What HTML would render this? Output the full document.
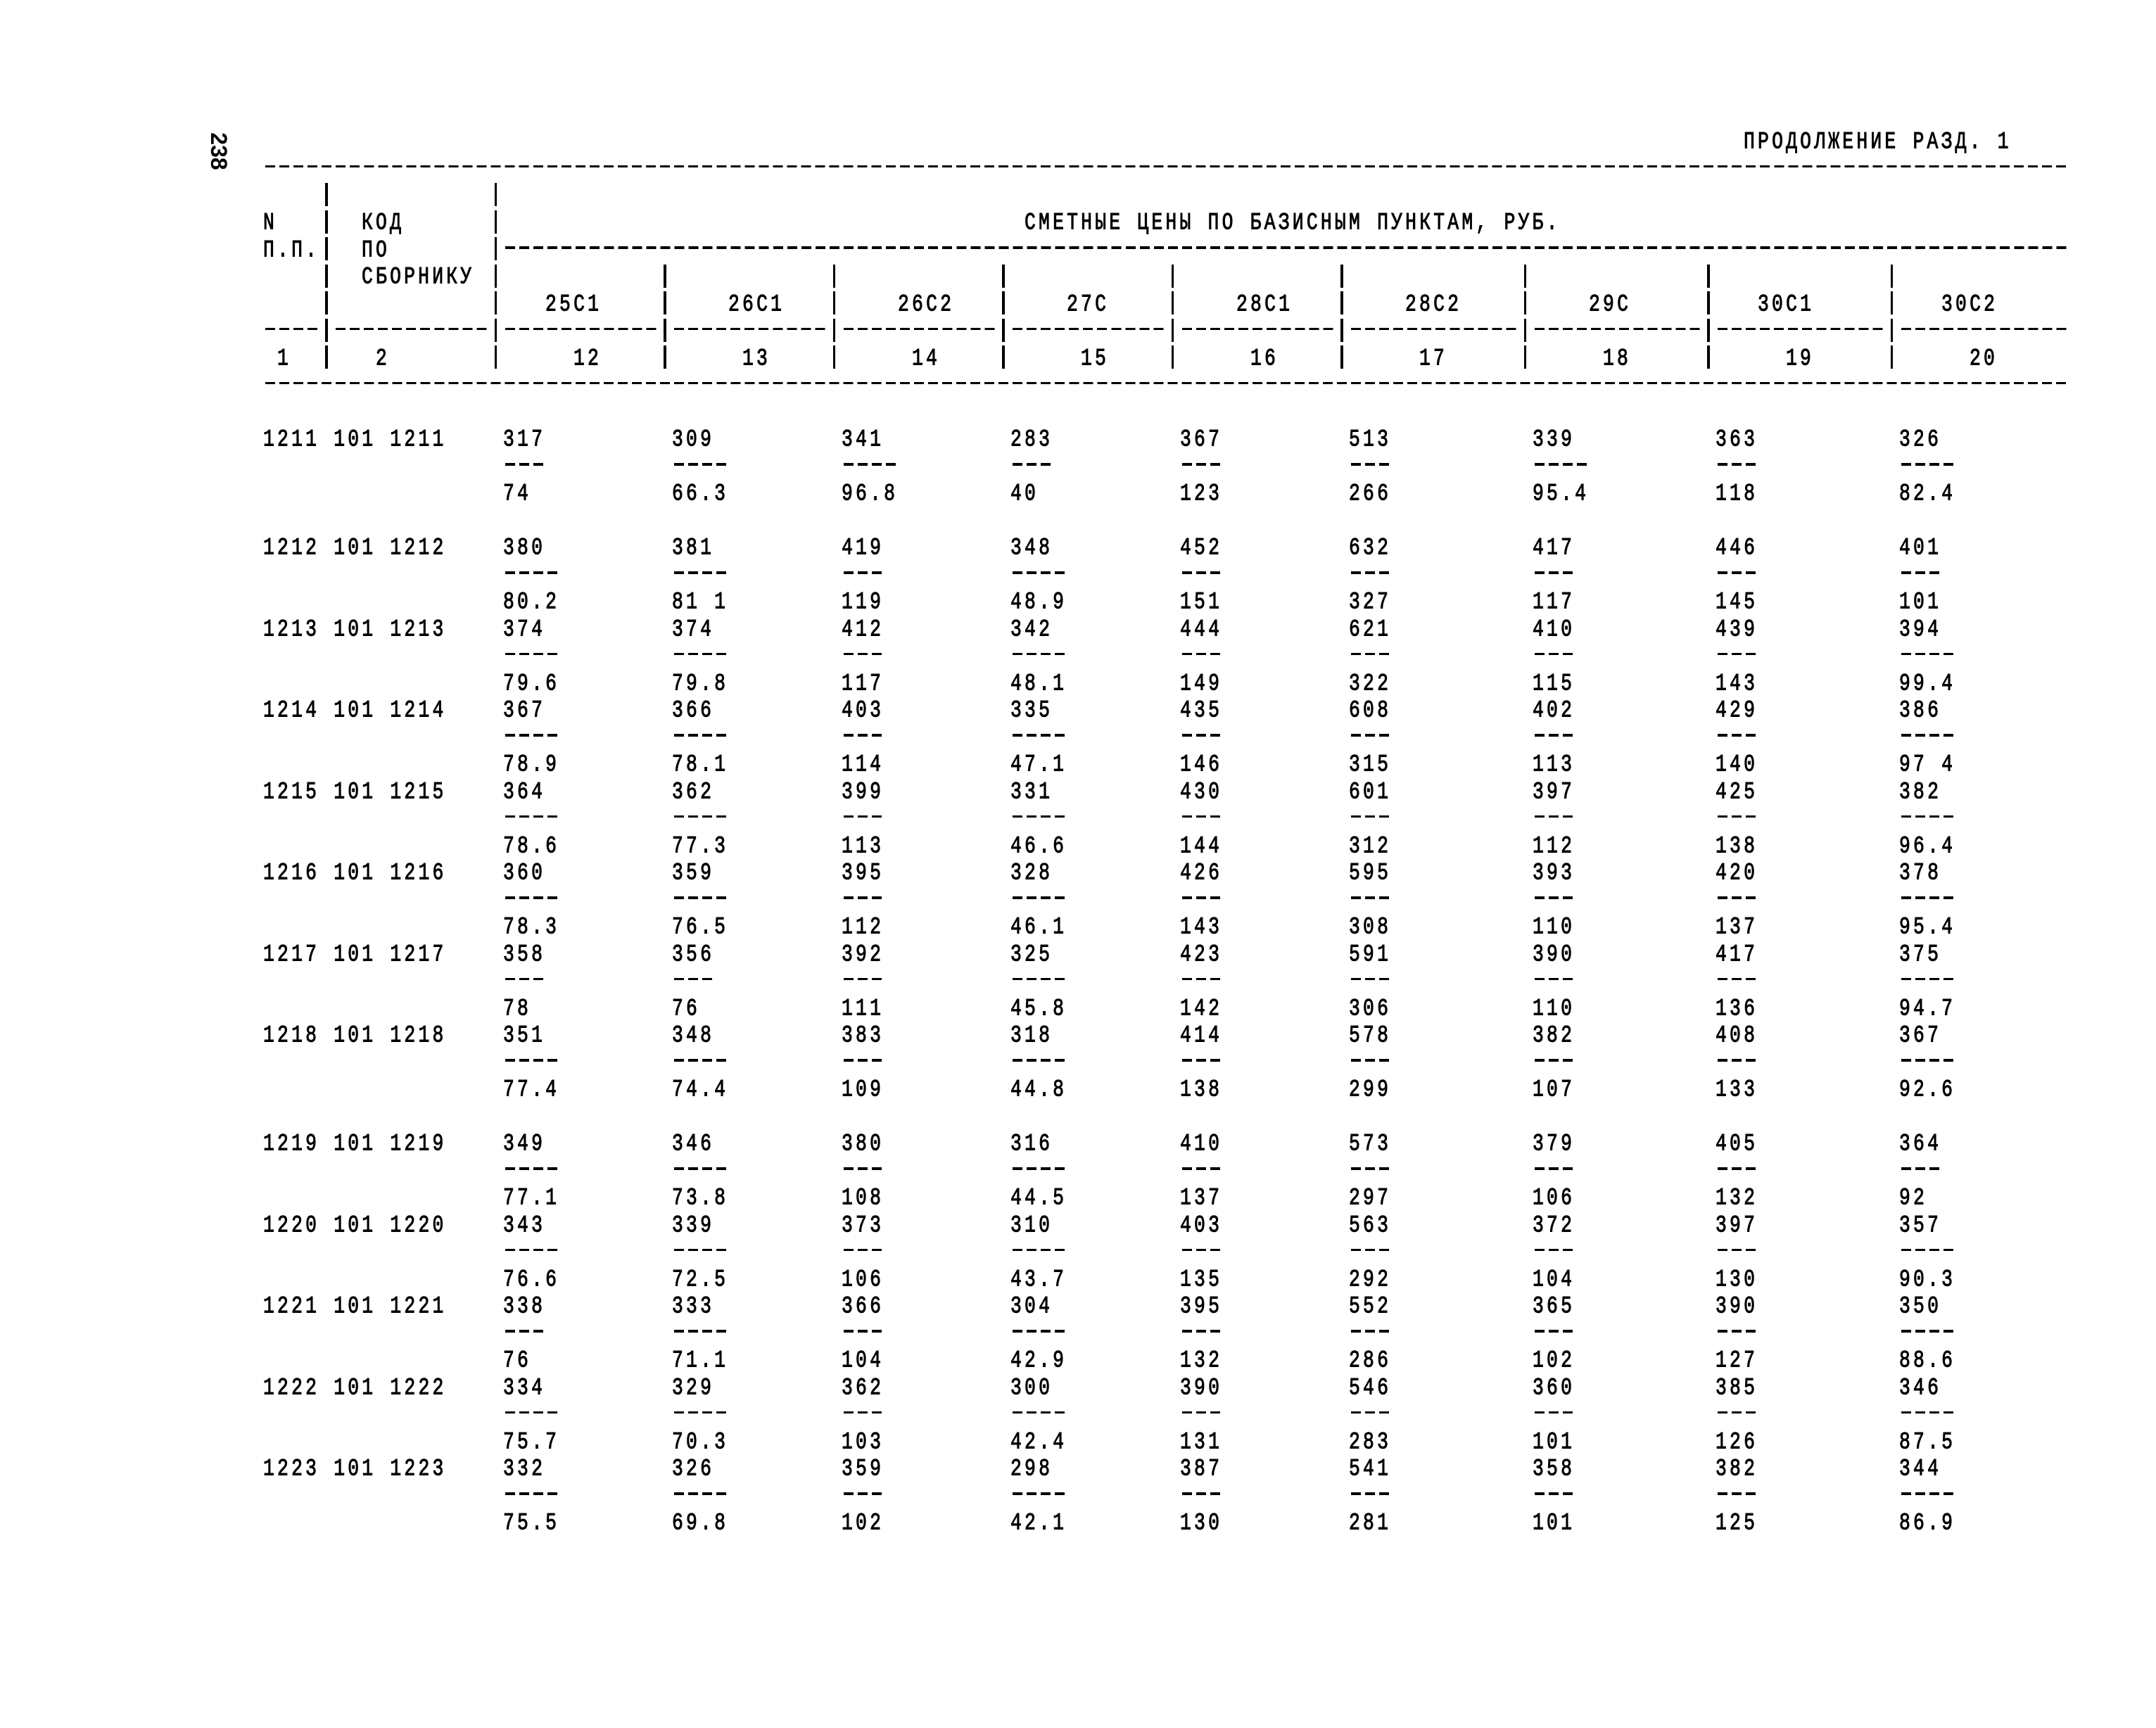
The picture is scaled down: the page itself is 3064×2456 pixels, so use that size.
<!DOCTYPE html>
<html><head><meta charset="utf-8"><style>
html,body{margin:0;padding:0;background:#fff}
body{width:3064px;height:2456px;position:relative;overflow:hidden}
.r{position:absolute;left:0;width:3064px;height:38.5px}
.t{position:absolute;top:0;font-family:"Liberation Mono","DejaVu Sans Mono",monospace;font-size:33px;line-height:38.5px;letter-spacing:5.25px;transform:scale(.8,1.05);transform-origin:0 17px;white-space:pre;color:#000;-webkit-text-stroke:1px #000}
.d{position:absolute;top:13.4px;height:3.5px;background:repeating-linear-gradient(90deg,transparent 0 3px,#000 3px 17px,transparent 17px 20.04px)}
.d3{width:60.12px}.d4{width:80.16px}.d11{width:220.44px}.d12{width:240.48px}
.b{position:absolute;top:.65px;width:3.5px;height:33px;background:#000}
.x0{left:374px}.x1{left:394.04px}.x5{left:474.2px}.x7{left:514.28px}.x8{left:534.32px}
.x17{left:714.68px}.x20{left:774.8px}.x22{left:814.88px}.x29{left:955.16px}.x33{left:1035.32px}.x34{left:1055.36px}
.x41{left:1195.64px}.x45{left:1275.8px}.x46{left:1295.84px}.x53{left:1436.12px}.x54{left:1456.16px}.x57{left:1516.28px}.x58{left:1536.32px}
.x65{left:1676.6px}.x69{left:1756.76px}.x70{left:1776.8px}.x77{left:1917.08px}.x81{left:1997.24px}.x82{left:2017.28px}
.x90{left:2177.6px}.x94{left:2257.76px}.x95{left:2277.8px}.x103{left:2438.12px}.x105{left:2478.2px}.x106{left:2498.24px}.x108{left:2538.32px}
.x116{left:2698.64px}.x119{left:2758.76px}.x121{left:2798.84px}
.q4{left:462.43px}.q16{left:702.91px}.q28{left:943.39px}.q40{left:1183.87px}.q52{left:1424.35px}.q64{left:1664.83px}.q76{left:1905.31px}.q89{left:2165.83px}.q102{left:2426.35px}.q115{left:2686.87px}
.pg{position:absolute;left:283px;top:199px;width:56px;height:32px;line-height:32px;text-align:center;font-family:"Liberation Sans",sans-serif;font-weight:bold;font-size:32px;color:#000;transform:rotate(90deg);transform-origin:center}
</style></head><body>
<div class="pg">238</div>

<div class="r" style="top:182.65px"><span class="t x105">ПРОДОЛЖЕНИЕ РАЗД. 1</span></div>
<div class="r" style="top:221.15px"><i class="d x0" style="width:2565.12px"></i></div>
<div class="r" style="top:259.65px"><i class="b q4"></i><i class="b q16"></i></div>
<div class="r" style="top:298.15px"><span class="t x0">N</span><i class="b q4"></i><span class="t x7">КОД</span><i class="b q16"></i><span class="t x54">СМЕТНЫЕ ЦЕНЫ ПО БАЗИСНЫМ ПУНКТАМ, РУБ.</span></div>
<div class="r" style="top:336.65px"><span class="t x0">П.П.</span><i class="b q4"></i><span class="t x7">ПО</span><i class="b q16"></i><i class="d x17" style="width:2224.44px"></i></div>
<div class="r" style="top:375.15px"><i class="b q4"></i><span class="t x7">СБОРНИКУ</span><i class="b q16"></i><i class="b q28"></i><i class="b q40"></i><i class="b q52"></i><i class="b q64"></i><i class="b q76"></i><i class="b q89"></i><i class="b q102"></i><i class="b q115"></i></div>
<div class="r" style="top:413.65px"><i class="b q4"></i><i class="b q16"></i><span class="t x20">25С1</span><i class="b q28"></i><span class="t x33">26С1</span><i class="b q40"></i><span class="t x45">26С2</span><i class="b q52"></i><span class="t x57">27С</span><i class="b q64"></i><span class="t x69">28С1</span><i class="b q76"></i><span class="t x81">28С2</span><i class="b q89"></i><span class="t x94">29С</span><i class="b q102"></i><span class="t x106">30С1</span><i class="b q115"></i><span class="t x119">30С2</span></div>
<div class="r" style="top:452.15px"><i class="d d4 x0"></i><i class="b q4"></i><i class="d d11 x5"></i><i class="b q16"></i><i class="d d11 x17"></i><i class="b q28"></i><i class="d d11 x29"></i><i class="b q40"></i><i class="d d11 x41"></i><i class="b q52"></i><i class="d d11 x53"></i><i class="b q64"></i><i class="d d11 x65"></i><i class="b q76"></i><i class="d d12 x77"></i><i class="b q89"></i><i class="d d12 x90"></i><i class="b q102"></i><i class="d d12 x103"></i><i class="b q115"></i><i class="d d12 x116"></i></div>
<div class="r" style="top:490.65px"><span class="t x1">1</span><i class="b q4"></i><span class="t x8">2</span><i class="b q16"></i><span class="t x22">12</span><i class="b q28"></i><span class="t x34">13</span><i class="b q40"></i><span class="t x46">14</span><i class="b q52"></i><span class="t x58">15</span><i class="b q64"></i><span class="t x70">16</span><i class="b q76"></i><span class="t x82">17</span><i class="b q89"></i><span class="t x95">18</span><i class="b q102"></i><span class="t x108">19</span><i class="b q115"></i><span class="t x121">20</span></div>
<div class="r" style="top:529.15px"><i class="d x0" style="width:2565.12px"></i></div>

<!-- 1211 -->
<div class="r" style="top:606.15px"><span class="t x0">1211 101 1211</span><span class="t x17">317</span><span class="t x29">309</span><span class="t x41">341</span><span class="t x53">283</span><span class="t x65">367</span><span class="t x77">513</span><span class="t x90">339</span><span class="t x103">363</span><span class="t x116">326</span></div>
<div class="r" style="top:644.65px"><i class="d d3 x17"></i><i class="d d4 x29"></i><i class="d d4 x41"></i><i class="d d3 x53"></i><i class="d d3 x65"></i><i class="d d3 x77"></i><i class="d d4 x90"></i><i class="d d3 x103"></i><i class="d d4 x116"></i></div>
<div class="r" style="top:683.15px"><span class="t x17">74</span><span class="t x29">66.3</span><span class="t x41">96.8</span><span class="t x53">40</span><span class="t x65">123</span><span class="t x77">266</span><span class="t x90">95.4</span><span class="t x103">118</span><span class="t x116">82.4</span></div>

<!-- 1212 -->
<div class="r" style="top:760.15px"><span class="t x0">1212 101 1212</span><span class="t x17">380</span><span class="t x29">381</span><span class="t x41">419</span><span class="t x53">348</span><span class="t x65">452</span><span class="t x77">632</span><span class="t x90">417</span><span class="t x103">446</span><span class="t x116">401</span></div>
<div class="r" style="top:798.65px"><i class="d d4 x17"></i><i class="d d4 x29"></i><i class="d d3 x41"></i><i class="d d4 x53"></i><i class="d d3 x65"></i><i class="d d3 x77"></i><i class="d d3 x90"></i><i class="d d3 x103"></i><i class="d d3 x116"></i></div>
<div class="r" style="top:837.15px"><span class="t x17">80.2</span><span class="t x29">81 1</span><span class="t x41">119</span><span class="t x53">48.9</span><span class="t x65">151</span><span class="t x77">327</span><span class="t x90">117</span><span class="t x103">145</span><span class="t x116">101</span></div>

<!-- 1213 -->
<div class="r" style="top:875.65px"><span class="t x0">1213 101 1213</span><span class="t x17">374</span><span class="t x29">374</span><span class="t x41">412</span><span class="t x53">342</span><span class="t x65">444</span><span class="t x77">621</span><span class="t x90">410</span><span class="t x103">439</span><span class="t x116">394</span></div>
<div class="r" style="top:914.15px"><i class="d d4 x17"></i><i class="d d4 x29"></i><i class="d d3 x41"></i><i class="d d4 x53"></i><i class="d d3 x65"></i><i class="d d3 x77"></i><i class="d d3 x90"></i><i class="d d3 x103"></i><i class="d d4 x116"></i></div>
<div class="r" style="top:952.65px"><span class="t x17">79.6</span><span class="t x29">79.8</span><span class="t x41">117</span><span class="t x53">48.1</span><span class="t x65">149</span><span class="t x77">322</span><span class="t x90">115</span><span class="t x103">143</span><span class="t x116">99.4</span></div>

<!-- 1214 -->
<div class="r" style="top:991.15px"><span class="t x0">1214 101 1214</span><span class="t x17">367</span><span class="t x29">366</span><span class="t x41">403</span><span class="t x53">335</span><span class="t x65">435</span><span class="t x77">608</span><span class="t x90">402</span><span class="t x103">429</span><span class="t x116">386</span></div>
<div class="r" style="top:1029.65px"><i class="d d4 x17"></i><i class="d d4 x29"></i><i class="d d3 x41"></i><i class="d d4 x53"></i><i class="d d3 x65"></i><i class="d d3 x77"></i><i class="d d3 x90"></i><i class="d d3 x103"></i><i class="d d4 x116"></i></div>
<div class="r" style="top:1068.15px"><span class="t x17">78.9</span><span class="t x29">78.1</span><span class="t x41">114</span><span class="t x53">47.1</span><span class="t x65">146</span><span class="t x77">315</span><span class="t x90">113</span><span class="t x103">140</span><span class="t x116">97 4</span></div>

<!-- 1215 -->
<div class="r" style="top:1106.65px"><span class="t x0">1215 101 1215</span><span class="t x17">364</span><span class="t x29">362</span><span class="t x41">399</span><span class="t x53">331</span><span class="t x65">430</span><span class="t x77">601</span><span class="t x90">397</span><span class="t x103">425</span><span class="t x116">382</span></div>
<div class="r" style="top:1145.15px"><i class="d d4 x17"></i><i class="d d4 x29"></i><i class="d d3 x41"></i><i class="d d4 x53"></i><i class="d d3 x65"></i><i class="d d3 x77"></i><i class="d d3 x90"></i><i class="d d3 x103"></i><i class="d d4 x116"></i></div>
<div class="r" style="top:1183.65px"><span class="t x17">78.6</span><span class="t x29">77.3</span><span class="t x41">113</span><span class="t x53">46.6</span><span class="t x65">144</span><span class="t x77">312</span><span class="t x90">112</span><span class="t x103">138</span><span class="t x116">96.4</span></div>

<!-- 1216 -->
<div class="r" style="top:1222.15px"><span class="t x0">1216 101 1216</span><span class="t x17">360</span><span class="t x29">359</span><span class="t x41">395</span><span class="t x53">328</span><span class="t x65">426</span><span class="t x77">595</span><span class="t x90">393</span><span class="t x103">420</span><span class="t x116">378</span></div>
<div class="r" style="top:1260.65px"><i class="d d4 x17"></i><i class="d d4 x29"></i><i class="d d3 x41"></i><i class="d d4 x53"></i><i class="d d3 x65"></i><i class="d d3 x77"></i><i class="d d3 x90"></i><i class="d d3 x103"></i><i class="d d4 x116"></i></div>
<div class="r" style="top:1299.15px"><span class="t x17">78.3</span><span class="t x29">76.5</span><span class="t x41">112</span><span class="t x53">46.1</span><span class="t x65">143</span><span class="t x77">308</span><span class="t x90">110</span><span class="t x103">137</span><span class="t x116">95.4</span></div>

<!-- 1217 -->
<div class="r" style="top:1337.65px"><span class="t x0">1217 101 1217</span><span class="t x17">358</span><span class="t x29">356</span><span class="t x41">392</span><span class="t x53">325</span><span class="t x65">423</span><span class="t x77">591</span><span class="t x90">390</span><span class="t x103">417</span><span class="t x116">375</span></div>
<div class="r" style="top:1376.15px"><i class="d d3 x17"></i><i class="d d3 x29"></i><i class="d d3 x41"></i><i class="d d4 x53"></i><i class="d d3 x65"></i><i class="d d3 x77"></i><i class="d d3 x90"></i><i class="d d3 x103"></i><i class="d d4 x116"></i></div>
<div class="r" style="top:1414.65px"><span class="t x17">78</span><span class="t x29">76</span><span class="t x41">111</span><span class="t x53">45.8</span><span class="t x65">142</span><span class="t x77">306</span><span class="t x90">110</span><span class="t x103">136</span><span class="t x116">94.7</span></div>

<!-- 1218 -->
<div class="r" style="top:1453.15px"><span class="t x0">1218 101 1218</span><span class="t x17">351</span><span class="t x29">348</span><span class="t x41">383</span><span class="t x53">318</span><span class="t x65">414</span><span class="t x77">578</span><span class="t x90">382</span><span class="t x103">408</span><span class="t x116">367</span></div>
<div class="r" style="top:1491.65px"><i class="d d4 x17"></i><i class="d d4 x29"></i><i class="d d3 x41"></i><i class="d d4 x53"></i><i class="d d3 x65"></i><i class="d d3 x77"></i><i class="d d3 x90"></i><i class="d d3 x103"></i><i class="d d4 x116"></i></div>
<div class="r" style="top:1530.15px"><span class="t x17">77.4</span><span class="t x29">74.4</span><span class="t x41">109</span><span class="t x53">44.8</span><span class="t x65">138</span><span class="t x77">299</span><span class="t x90">107</span><span class="t x103">133</span><span class="t x116">92.6</span></div>

<!-- 1219 -->
<div class="r" style="top:1607.15px"><span class="t x0">1219 101 1219</span><span class="t x17">349</span><span class="t x29">346</span><span class="t x41">380</span><span class="t x53">316</span><span class="t x65">410</span><span class="t x77">573</span><span class="t x90">379</span><span class="t x103">405</span><span class="t x116">364</span></div>
<div class="r" style="top:1645.65px"><i class="d d4 x17"></i><i class="d d4 x29"></i><i class="d d3 x41"></i><i class="d d4 x53"></i><i class="d d3 x65"></i><i class="d d3 x77"></i><i class="d d3 x90"></i><i class="d d3 x103"></i><i class="d d3 x116"></i></div>
<div class="r" style="top:1684.15px"><span class="t x17">77.1</span><span class="t x29">73.8</span><span class="t x41">108</span><span class="t x53">44.5</span><span class="t x65">137</span><span class="t x77">297</span><span class="t x90">106</span><span class="t x103">132</span><span class="t x116">92</span></div>

<!-- 1220 -->
<div class="r" style="top:1722.65px"><span class="t x0">1220 101 1220</span><span class="t x17">343</span><span class="t x29">339</span><span class="t x41">373</span><span class="t x53">310</span><span class="t x65">403</span><span class="t x77">563</span><span class="t x90">372</span><span class="t x103">397</span><span class="t x116">357</span></div>
<div class="r" style="top:1761.15px"><i class="d d4 x17"></i><i class="d d4 x29"></i><i class="d d3 x41"></i><i class="d d4 x53"></i><i class="d d3 x65"></i><i class="d d3 x77"></i><i class="d d3 x90"></i><i class="d d3 x103"></i><i class="d d4 x116"></i></div>
<div class="r" style="top:1799.65px"><span class="t x17">76.6</span><span class="t x29">72.5</span><span class="t x41">106</span><span class="t x53">43.7</span><span class="t x65">135</span><span class="t x77">292</span><span class="t x90">104</span><span class="t x103">130</span><span class="t x116">90.3</span></div>

<!-- 1221 -->
<div class="r" style="top:1838.15px"><span class="t x0">1221 101 1221</span><span class="t x17">338</span><span class="t x29">333</span><span class="t x41">366</span><span class="t x53">304</span><span class="t x65">395</span><span class="t x77">552</span><span class="t x90">365</span><span class="t x103">390</span><span class="t x116">350</span></div>
<div class="r" style="top:1876.65px"><i class="d d3 x17"></i><i class="d d4 x29"></i><i class="d d3 x41"></i><i class="d d4 x53"></i><i class="d d3 x65"></i><i class="d d3 x77"></i><i class="d d3 x90"></i><i class="d d3 x103"></i><i class="d d4 x116"></i></div>
<div class="r" style="top:1915.15px"><span class="t x17">76</span><span class="t x29">71.1</span><span class="t x41">104</span><span class="t x53">42.9</span><span class="t x65">132</span><span class="t x77">286</span><span class="t x90">102</span><span class="t x103">127</span><span class="t x116">88.6</span></div>

<!-- 1222 -->
<div class="r" style="top:1953.65px"><span class="t x0">1222 101 1222</span><span class="t x17">334</span><span class="t x29">329</span><span class="t x41">362</span><span class="t x53">300</span><span class="t x65">390</span><span class="t x77">546</span><span class="t x90">360</span><span class="t x103">385</span><span class="t x116">346</span></div>
<div class="r" style="top:1992.15px"><i class="d d4 x17"></i><i class="d d4 x29"></i><i class="d d3 x41"></i><i class="d d4 x53"></i><i class="d d3 x65"></i><i class="d d3 x77"></i><i class="d d3 x90"></i><i class="d d3 x103"></i><i class="d d4 x116"></i></div>
<div class="r" style="top:2030.65px"><span class="t x17">75.7</span><span class="t x29">70.3</span><span class="t x41">103</span><span class="t x53">42.4</span><span class="t x65">131</span><span class="t x77">283</span><span class="t x90">101</span><span class="t x103">126</span><span class="t x116">87.5</span></div>

<!-- 1223 -->
<div class="r" style="top:2069.15px"><span class="t x0">1223 101 1223</span><span class="t x17">332</span><span class="t x29">326</span><span class="t x41">359</span><span class="t x53">298</span><span class="t x65">387</span><span class="t x77">541</span><span class="t x90">358</span><span class="t x103">382</span><span class="t x116">344</span></div>
<div class="r" style="top:2107.65px"><i class="d d4 x17"></i><i class="d d4 x29"></i><i class="d d3 x41"></i><i class="d d4 x53"></i><i class="d d3 x65"></i><i class="d d3 x77"></i><i class="d d3 x90"></i><i class="d d3 x103"></i><i class="d d4 x116"></i></div>
<div class="r" style="top:2146.15px"><span class="t x17">75.5</span><span class="t x29">69.8</span><span class="t x41">102</span><span class="t x53">42.1</span><span class="t x65">130</span><span class="t x77">281</span><span class="t x90">101</span><span class="t x103">125</span><span class="t x116">86.9</span></div>

</body></html>
